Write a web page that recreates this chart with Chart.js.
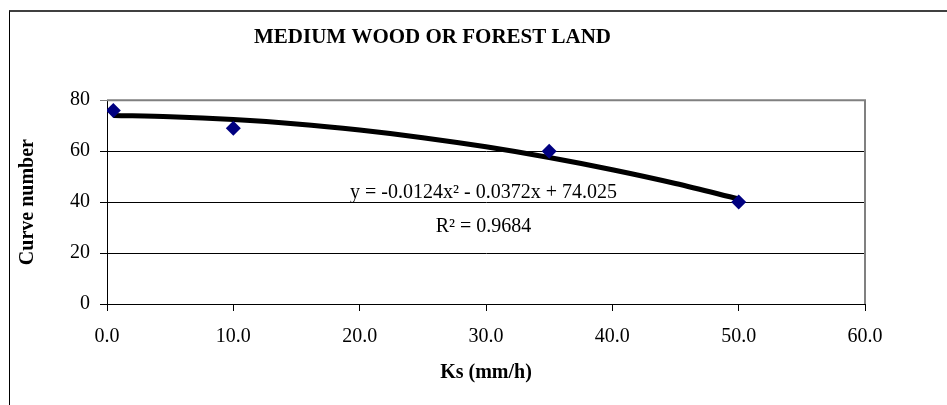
<!DOCTYPE html>
<html>
<head>
<meta charset="utf-8">
<script src="https://cdn.jsdelivr.net/npm/chart.js@4"></script>
<style>
  body { margin: 0; background: #fff; }
  #wrap { position: relative; width: 947px; height: 405px; overflow: hidden; }
  #frame { position: absolute; left: 9px; top: 10px; right: -5px; bottom: -5px;
           border-top: 2px solid #404040; border-left: 1px solid #000; pointer-events: none; }
</style>
</head>
<body>
<div id="wrap">
  <canvas id="cnChart" width="947" height="405"></canvas>
  <div id="frame"></div>
</div>
<script>
// measured points
const ksValues = [0.5, 10, 35, 50];
const curveNumbers = [76, 69, 60, 40];
// polynomial trendline
const trendKs = [0.5, 5, 10, 15, 20, 25, 30, 35, 40, 45, 50];
const trendCn = [74.0, 73.5, 72.4, 70.7, 68.3, 65.3, 61.7, 57.5, 52.7, 47.3, 41.2];
const equationText = 'y = -0.0124x\u00B2 - 0.0372x + 74.025';
const r2Text = 'R\u00B2 = 0.9684';

const serif = '"Liberation Serif", "Times New Roman", serif';

const plotFrame = {
  id: 'plotFrame',
  afterDatasetsDraw(chart) {
    const a = chart.chartArea;
    const c = chart.ctx;
    c.save();
    c.strokeStyle = '#808080';
    c.lineWidth = 2;
    c.beginPath();
    c.moveTo(a.left, a.top);
    c.lineTo(a.right, a.top);
    c.lineTo(a.right, a.bottom);
    c.stroke();
    c.restore();
  },
  afterDraw(chart) {
    const c = chart.ctx;
    const x = chart.scales.x.getPixelForValue(29.8);
    c.save();
    c.fillStyle = '#000';
    c.font = '20px ' + serif;
    c.textAlign = 'center';
    c.textBaseline = 'alphabetic';
    c.fillText(equationText, x, 198);
    c.fillText(r2Text, x, 232);
    c.restore();
  }
};

new Chart(document.getElementById('cnChart'), {
  type: 'scatter',
  data: {
    datasets: [{
      label: 'Curve number',
      data: ksValues.map((k, i) => ({ x: k, y: curveNumbers[i] })),
      pointStyle: 'rectRot',
      pointRadius: 7.5,
      pointHoverRadius: 7.5,
      backgroundColor: '#000080',
      borderColor: '#000080',
      borderWidth: 0,
      order: 0
    }, {
      label: 'Trend',
      type: 'line',
      data: trendKs.map((k, i) => ({ x: k, y: trendCn[i] })),
      borderColor: '#000',
      borderWidth: 5,
      pointRadius: 0,
      fill: false,
      cubicInterpolationMode: 'monotone',
      order: 1
    }]
  },
  options: {
    responsive: false,
    animation: false,
    layout: { padding: { left: 0, right: 82, top: 0, bottom: 0 } },
    plugins: {
      legend: { display: false },
      tooltip: { enabled: false },
      title: {
        display: true,
        text: 'MEDIUM WOOD OR FOREST LAND',
        color: '#000',
        font: { family: serif, size: 21, weight: 'bold' },
        padding: { top: 25, bottom: 50 }
      }
    },
    scales: {
      x: {
        type: 'linear',
        min: 0,
        max: 60,
        afterFit(s) { s.height = 101; },
        ticks: {
          stepSize: 10,
          color: '#000',
          padding: 14,
          maxRotation: 0,
          font: { family: serif, size: 20 },
          callback: v => v.toFixed(1)
        },
        grid: { drawOnChartArea: false, drawTicks: true, tickLength: 7, color: '#000' },
        border: { color: '#000', width: 1 },
        title: {
          display: true,
          text: 'Ks (mm/h)',
          color: '#000',
          font: { family: serif, size: 20, weight: 'bold' },
          padding: { top: 0, bottom: 20 }
        }
      },
      y: {
        min: 0,
        max: 80,
        afterFit(s) { s.width = 107; },
        ticks: {
          stepSize: 20,
          color: '#000',
          padding: 10,
          font: { family: serif, size: 20 }
        },
        grid: {
          tickLength: 7,
          color: ctx => (ctx.tick && ctx.tick.value === 80 ? '#808080' : '#000')
        },
        border: { color: '#000', width: 1 },
        title: {
          display: true,
          text: 'Curve number',
          color: '#000',
          font: { family: serif, size: 20, weight: 'bold' },
          padding: { top: 16, bottom: 0 }
        }
      }
    }
  },
  plugins: [plotFrame]
});
</script>
</body>
</html>
